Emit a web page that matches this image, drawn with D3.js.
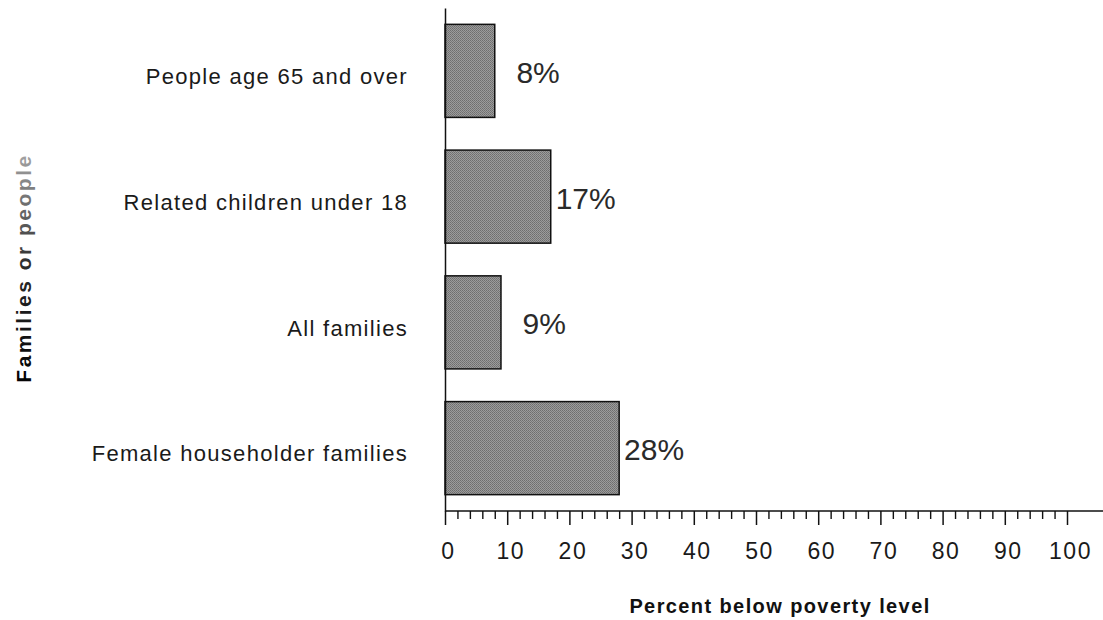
<!DOCTYPE html>
<html>
<head>
<meta charset="utf-8">
<script src="https://cdn.jsdelivr.net/npm/d3@7"></script>
<style>
  body { margin: 0; background: #fff; }
  .cat { font-family: "Liberation Sans", Arial, sans-serif; font-size: 22px; letter-spacing: 1.3px; fill: #1a1a1a; }
  .pct { font-family: "Liberation Sans", Arial, sans-serif; font-size: 30px; fill: #2a2a2a; }
  .tick-label { font-family: "Liberation Sans", Arial, sans-serif; font-size: 23px; letter-spacing: 1.5px; fill: #1a1a1a; }
  .title { font-family: "Liberation Sans", Arial, sans-serif; font-size: 20px; font-weight: bold; letter-spacing: 1.4px; }
  .ytitle { font-size: 21px; letter-spacing: 2.5px; }
</style>
</head>
<body>
<svg></svg>
<script>
// values
const categories = ["People age 65 and over", "Related children under 18", "All families", "Female householder families"];
const values = [8, 17, 9, 28];
const labels = ["8%", "17%", "9%", "28%"];
const majorTicks = [0, 10, 20, 30, 40, 50, 60, 70, 80, 90, 100];
const minorTicks = d3.range(0, 101, 2).filter(v => v % 10 !== 0);

const W = 1103, H = 620;
const plotTop = 8, plotBottom = 511, x0 = 445, x100 = 1067;

const svg = d3.select("svg").attr("width", W).attr("height", H);

// halftone-ish fill for the bars
const defs = svg.append("defs");
const pat = defs.append("pattern").attr("id", "dots")
  .attr("width", 2).attr("height", 2).attr("patternUnits", "userSpaceOnUse");
pat.append("rect").attr("width", 2).attr("height", 2).attr("fill", "#9c9c9c");
pat.append("rect").attr("width", 1).attr("height", 1).attr("fill", "#6e6e6e");
pat.append("rect").attr("x", 1).attr("y", 1).attr("width", 1).attr("height", 1).attr("fill", "#787878");

// faded y title (scan looks washed out at the top); local coords after rotate
const grad = defs.append("linearGradient").attr("id", "fade")
  .attr("gradientUnits", "userSpaceOnUse")
  .attr("x1", -125).attr("y1", 0).attr("x2", 125).attr("y2", 0);
grad.append("stop").attr("offset", "0%").attr("stop-color", "#000");
grad.append("stop").attr("offset", "50%").attr("stop-color", "#2a2a2a");
grad.append("stop").attr("offset", "100%").attr("stop-color", "#b0b0b0");

const x = d3.scaleLinear().domain([0, 100]).range([x0, x100]);
const y = d3.scaleBand().domain(categories).range([plotTop, plotBottom])
  .paddingInner(0.26).paddingOuter(0.13);

// bars
svg.selectAll("rect.bar")
  .data(values)
  .enter()
  .append("rect")
    .attr("class", "bar")
    .attr("x", x(0))
    .attr("y", (d, i) => y(categories[i]))
    .attr("width", d => x(d) - x(0))
    .attr("height", y.bandwidth())
    .attr("fill", "url(#dots)")
    .attr("stroke", "#111")
    .attr("stroke-width", 1.5);

// value labels, right aligned a little past the bar end
svg.selectAll("text.pct")
  .data(values)
  .enter()
  .append("text")
    .attr("class", "pct")
    .attr("x", d => x(d) + 65)
    .attr("y", (d, i) => y(categories[i]) + y.bandwidth() / 2 + 12)
    .attr("text-anchor", "end")
    .text((d, i) => labels[i]);

// y axis
const yAxis = svg.append("g")
  .attr("transform", "translate(" + x0 + ",0)")
  .call(d3.axisLeft(y).tickSize(0).tickSizeOuter(0).tickPadding(37));
yAxis.select(".domain").attr("stroke", "#111").attr("stroke-width", 1.5);
yAxis.selectAll("text").attr("class", "cat").attr("dy", "0.6em");

// x axis: long ticks every 10, short every 2
const xMajor = svg.append("g")
  .attr("transform", "translate(0," + plotBottom + ")")
  .call(d3.axisBottom(x).tickValues(majorTicks).tickSize(14).tickSizeOuter(0).tickPadding(18));
xMajor.select(".domain").remove();
xMajor.selectAll("line").attr("stroke", "#111").attr("stroke-width", 1.5);
xMajor.selectAll("text").attr("class", "tick-label").attr("dx", "3px");

const xMinor = svg.append("g")
  .attr("transform", "translate(0," + plotBottom + ")")
  .call(d3.axisBottom(x).tickValues(minorTicks).tickSize(8).tickFormat(""));
xMinor.select(".domain").remove();
xMinor.selectAll("line").attr("stroke", "#111").attr("stroke-width", 1.4);

// axis line runs to the right edge
svg.append("line")
  .attr("x1", x0).attr("x2", W)
  .attr("y1", plotBottom).attr("y2", plotBottom)
  .attr("stroke", "#111").attr("stroke-width", 1.5);

// titles
svg.append("text")
  .attr("class", "title")
  .attr("x", 780).attr("y", 613)
  .attr("text-anchor", "middle")
  .attr("fill", "#111")
  .text("Percent below poverty level");

svg.append("text")
  .attr("class", "title ytitle")
  .attr("transform", "translate(31,268) rotate(-90)")
  .attr("text-anchor", "middle")
  .attr("fill", "url(#fade)")
  .text("Families or people");
</script>
</body>
</html>
